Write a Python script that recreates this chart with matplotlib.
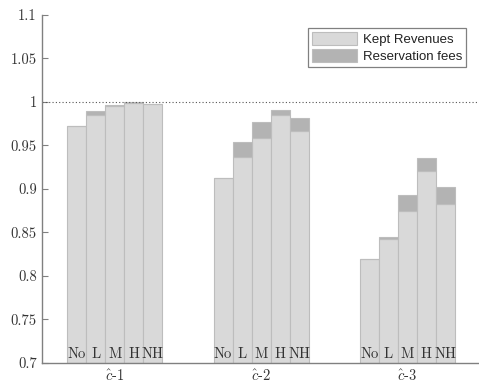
import numpy as np
import matplotlib
matplotlib.use("Agg")
import matplotlib.pyplot as plt

# revenue split per scenario and reservation policy
groups = [r"$\hat{c}$-1", r"$\hat{c}$-2", r"$\hat{c}$-3"]
policies = ["No", "L", "M", "H", "NH"]
kept = [
    [0.972, 0.985, 0.995, 0.999, 0.997],
    [0.912, 0.937, 0.959, 0.985, 0.966],
    [0.819, 0.842, 0.875, 0.920, 0.882],
]
total = [
    [0.972, 0.989, 0.996, 1.000, 0.997],
    [0.912, 0.954, 0.977, 0.991, 0.981],
    [0.819, 0.845, 0.893, 0.935, 0.902],
]
yticks = [0.7, 0.75, 0.8, 0.85, 0.9, 0.95, 1, 1.05, 1.1]
ytick_labels = ["0.7", "0.75", "0.8", "0.85", "0.9", "0.95", "1", "1.05", "1.1"]

plt.rcParams["font.family"] = "serif"
plt.rcParams["font.serif"] = ["cmr10"]
plt.rcParams["mathtext.fontset"] = "cm"
plt.rcParams["axes.formatter.use_mathtext"] = True

kept_color = "#d9d9d9"
fee_color = "#b3b3b3"
edge_color = "#bdbdbd"
text_color = "#333333"
base = 0.7
width = 0.13

fig = plt.figure(figsize=(4.79, 3.83), dpi=100)
ax = fig.add_axes([0.087, 0.053, 0.913, 0.908])

for g in range(len(groups)):
    offsets = (np.arange(len(policies)) - 2) * width
    xs = g + 1 + offsets
    k = np.array(kept[g])
    t = np.array(total[g])
    ax.bar(xs, k - base, width, bottom=base, color=kept_color,
           edgecolor=edge_color, linewidth=0.8,
           label="Kept Revenues" if g == 0 else None)
    ax.bar(xs, t - k, width, bottom=k, color=fee_color,
           edgecolor=edge_color, linewidth=0.8,
           label="Reservation fees" if g == 0 else None)
    for x, name in zip(xs, policies):
        ax.text(x, 0.7055, name, ha="center", va="baseline",
                fontsize=10.5, color=text_color)

ax.axhline(1.0, color="#555555", linestyle=(0, (1, 2)), linewidth=0.8)

ax.set_xlim(0.5, 3.49)
ax.set_ylim(0.7, 1.1)
ax.set_yticks(yticks)
ax.set_yticklabels(ytick_labels)
ax.set_xticks([1, 2, 3])
ax.set_xticklabels(groups)
ax.tick_params(axis="y", direction="in", length=4, colors="#808080",
               labelcolor=text_color, labelsize=10.5)
ax.tick_params(axis="x", length=0, pad=4, labelcolor=text_color,
               labelsize=10.5)

for side in ["top", "right"]:
    ax.spines[side].set_visible(False)
for side in ["left", "bottom"]:
    ax.spines[side].set_color("#808080")
    ax.spines[side].set_linewidth(1.0)

leg = ax.legend(loc="upper right", bbox_to_anchor=(0.985, 0.98),
                prop={"family": "Liberation Sans", "size": 9.5},
                fancybox=False, framealpha=1, edgecolor="#808080",
                handlelength=3.4, handleheight=1.1, borderpad=0.3,
                labelspacing=0.2, handletextpad=0.4)
leg.get_frame().set_linewidth(0.9)
for txt in leg.get_texts():
    txt.set_color("#222222")

fig.savefig("out.png", dpi=100)
